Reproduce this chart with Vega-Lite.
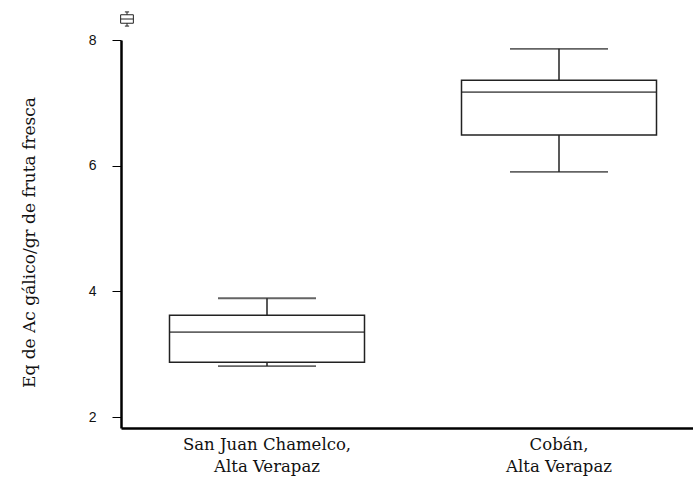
{
  "$schema": "https://vega.github.io/schema/vega-lite/v6.json",
  "width": 584,
  "height": 388,
  "autosize": {"type": "none"},
  "padding": {"left": 121, "top": 40, "right": 0, "bottom": 53},
  "background": "white",
  "config": {"view": {"stroke": null}},
  "data": {"values": [
    {"site": "San Juan Chamelco, Alta Verapaz", "lower": 2.81, "q1": 2.87, "median": 3.35, "q3": 3.62, "upper": 3.89},
    {"site": "Cobán, Alta Verapaz", "lower": 5.90, "q1": 6.49, "median": 7.17, "q3": 7.36, "upper": 7.86}
  ]},
  "encoding": {
    "x": {"field": "site", "type": "nominal", "sort": null,
      "scale": {"paddingInner": 0, "paddingOuter": 0},
      "axis": {"title": null, "labelAngle": 0, "ticks": false, "domainWidth": 2.5, "domainColor": "black",
        "labelFont": "DejaVu Serif", "labelFontSize": 16.5, "labelColor": "#111", "labelPadding": 8, "labelLineHeight": 22,
        "labelExpr": "[split(datum.label, ', ')[0] + ',', split(datum.label, ', ')[1]]"}}
  },
  "layer": [
    {"mark": {"type": "rule", "color": "#222", "strokeWidth": 1.5},
     "encoding": {
       "y": {"field": "lower", "type": "quantitative",
         "scale": {"domain": [1.825, 8], "nice": false, "zero": false},
         "axis": {"title": "Eq de Ac gálico/gr de fruta fresca", "values": [2, 4, 6, 8], "format": "d", "grid": false,
           "domainWidth": 2.5, "domainColor": "black", "tickColor": "black", "tickSize": 9, "tickWidth": 1,
           "labelFont": "Liberation Sans", "labelFontSize": 14, "labelColor": "#111", "labelPadding": 16,
           "titleFont": "DejaVu Serif", "titleFontSize": 17, "titleFontWeight": "normal", "titleColor": "#111", "titlePadding": 50, "titleY": 202}},
       "y2": {"field": "upper"}}},
    {"mark": {"type": "bar", "fill": "white", "strokeWidth": 1.5, "size": 195},
     "encoding": {
       "y": {"field": "q1", "type": "quantitative"}, "y2": {"field": "q3"},
       "stroke": {"datum": "box", "scale": {"range": ["#222"]},
         "legend": {"title": null, "orient": "none", "legendX": -2, "legendY": -29, "labelExpr": "''",
           "symbolType": "M-0.3,-1H0.3M0,-1V-0.6M-0.9,-0.6H0.9V0.6H-0.9ZM-0.9,0H0.9M0,0.6V1M-0.3,1H0.3",
           "symbolSize": 200, "symbolFillColor": "white", "symbolStrokeColor": "#222", "symbolStrokeWidth": 1}}}},
    {"mark": {"type": "tick", "color": "#222", "thickness": 1.8, "size": 195},
     "encoding": {"y": {"field": "median", "type": "quantitative"}}},
    {"mark": {"type": "tick", "color": "#222", "thickness": 1.8, "size": 98},
     "encoding": {"y": {"field": "upper", "type": "quantitative"}}},
    {"mark": {"type": "tick", "color": "#222", "thickness": 1.8, "size": 98},
     "encoding": {"y": {"field": "lower", "type": "quantitative"}}}
  ]
}
